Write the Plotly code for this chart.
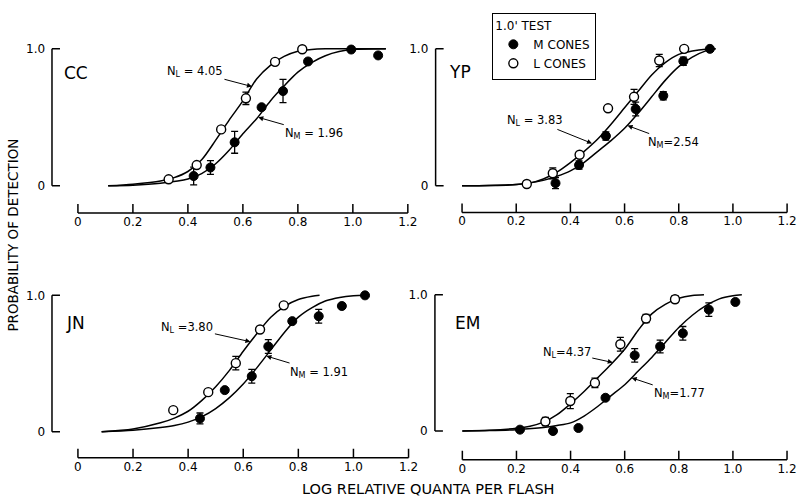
import plotly.graph_objects as go

FONT = "DejaVu Sans"

# ---------------- data ----------------
tick_vals = [0, 0.2, 0.4, 0.6, 0.8, 1.0, 1.2]
tick_text = ["0", "0.2", "0.4", "0.6", "0.8", "1.0", "1.2"]
y_tick_vals = [0, 1]
y_tick_text = ["0", "1.0"]

subjects = ["CC", "YP", "JN", "EM"]

# CC
CC_L_x = [0.33, 0.432, 0.521, 0.611, 0.717, 0.816]
CC_L_y = [0.048, 0.152, 0.412, 0.639, 0.905, 0.997]
CC_L_err = [None, None, None, 0.045, None, None]
CC_M_x = [0.421, 0.482, 0.57, 0.668, 0.746, 0.837, 0.994, 1.092]
CC_M_y = [0.072, 0.134, 0.318, 0.574, 0.692, 0.908, 0.995, 0.952]
CC_M_err = [0.065, 0.05, 0.08, None, 0.085, None, None, None]
CC_Lfit_x = [0.11, 0.2, 0.3, 0.35, 0.4, 0.45, 0.5, 0.55, 0.6, 0.65, 0.7, 0.75, 0.8, 0.85, 0.9, 1.0, 1.12]
CC_Lfit_y = [0.0, 0.012, 0.035, 0.06, 0.105, 0.19, 0.33, 0.48, 0.62, 0.78, 0.88, 0.945, 0.983, 0.996, 1.0, 1.0, 1.0]
CC_Mfit_x = [0.11, 0.2, 0.3, 0.4, 0.45, 0.5, 0.55, 0.6, 0.65, 0.7, 0.75, 0.8, 0.85, 0.9, 0.95, 1.0, 1.12]
CC_Mfit_y = [0.0, 0.005, 0.02, 0.05, 0.09, 0.16, 0.26, 0.38, 0.49, 0.62, 0.73, 0.83, 0.9, 0.95, 0.98, 0.995, 1.0]

# YP
YP_L_x = [0.239, 0.335, 0.434, 0.539, 0.635, 0.728, 0.82]
YP_L_y = [0.014, 0.092, 0.227, 0.566, 0.65, 0.915, 1.0]
YP_L_err = [None, 0.04, None, None, 0.055, 0.045, None]
YP_M_x = [0.345, 0.432, 0.531, 0.641, 0.743, 0.817, 0.915]
YP_M_y = [0.02, 0.152, 0.364, 0.561, 0.658, 0.91, 1.0]
YP_M_err = [0.04, 0.03, 0.03, 0.05, 0.03, 0.03, None]
YP_Lfit_x = [0.0, 0.1, 0.2, 0.25, 0.3, 0.35, 0.4, 0.45, 0.5, 0.55, 0.6, 0.65, 0.7, 0.75, 0.8, 0.85, 0.9, 0.936]
YP_Lfit_y = [0.0, 0.003, 0.01, 0.02, 0.05, 0.1, 0.17, 0.25, 0.34, 0.45, 0.57, 0.69, 0.81, 0.9, 0.96, 0.985, 0.998, 1.0]
YP_Mfit_x = [0.0, 0.1, 0.2, 0.3, 0.35, 0.4, 0.45, 0.5, 0.55, 0.6, 0.65, 0.7, 0.75, 0.8, 0.85, 0.9, 0.936]
YP_Mfit_y = [0.0, 0.002, 0.01, 0.04, 0.07, 0.11, 0.17, 0.25, 0.33, 0.42, 0.53, 0.65, 0.77, 0.87, 0.94, 0.985, 1.0]

# JN
JN_L_x = [0.346, 0.473, 0.573, 0.661, 0.747]
JN_L_y = [0.158, 0.29, 0.503, 0.75, 0.927]
JN_L_err = [None, None, 0.05, None, None]
JN_M_x = [0.443, 0.533, 0.631, 0.691, 0.778, 0.874, 0.958, 1.042]
JN_M_y = [0.097, 0.305, 0.407, 0.625, 0.811, 0.847, 0.922, 1.0]
JN_M_err = [0.04, None, 0.05, 0.05, None, 0.05, None, None]
JN_Lfit_x = [0.086, 0.2, 0.3, 0.35, 0.4, 0.45, 0.5, 0.55, 0.6, 0.65, 0.7, 0.75, 0.8, 0.85, 0.877]
JN_Lfit_y = [0.0, 0.02, 0.065, 0.1, 0.15, 0.23, 0.33, 0.45, 0.59, 0.72, 0.84, 0.92, 0.97, 0.993, 1.0]
JN_Mfit_x = [0.086, 0.2, 0.3, 0.35, 0.4, 0.45, 0.5, 0.55, 0.6, 0.65, 0.7, 0.75, 0.8, 0.85, 0.9, 0.95, 1.0, 1.045]
JN_Mfit_y = [0.0, 0.01, 0.03, 0.045, 0.07, 0.11, 0.17, 0.25, 0.35, 0.47, 0.6, 0.73, 0.84, 0.91, 0.96, 0.985, 0.997, 1.0]

# EM
EM_L_x = [0.307, 0.399, 0.49, 0.584, 0.679, 0.786]
EM_L_y = [0.07, 0.22, 0.353, 0.637, 0.826, 0.967]
EM_L_err = [0.03, 0.055, 0.035, 0.05, 0.03, 0.025]
EM_M_x = [0.213, 0.335, 0.429, 0.529, 0.637, 0.731, 0.815, 0.911, 1.009]
EM_M_y = [0.01, 0.0, 0.022, 0.244, 0.555, 0.62, 0.717, 0.891, 0.947]
EM_M_err = [None, None, None, None, 0.05, 0.047, 0.05, 0.05, None]
EM_Lfit_x = [0.0, 0.1, 0.2, 0.25, 0.3, 0.35, 0.4, 0.45, 0.5, 0.55, 0.6, 0.65, 0.7, 0.75, 0.8, 0.85, 0.893]
EM_Lfit_y = [0.0, 0.005, 0.02, 0.035, 0.065, 0.12, 0.2, 0.29, 0.39, 0.49, 0.6, 0.74, 0.86, 0.93, 0.975, 0.995, 1.0]
EM_Mfit_x = [0.0, 0.1, 0.2, 0.3, 0.35, 0.4, 0.45, 0.5, 0.55, 0.6, 0.65, 0.7, 0.75, 0.8, 0.85, 0.9, 0.95, 1.0, 1.033]
EM_Mfit_y = [0.0, 0.003, 0.01, 0.025, 0.04, 0.06, 0.11, 0.18, 0.26, 0.34, 0.44, 0.54, 0.65, 0.76, 0.85, 0.92, 0.97, 0.993, 1.0]

# fitted slope labels: (text, tip x, tip y, text offset px)
N_labels = {
    "CC": [("N<sub>L</sub> = 4.05", 0.633, 0.725, -57, -15), ("N<sub>M</sub> = 1.96", 0.656, 0.50, 56, 16)],
    "YP": [("N<sub>L</sub> = 3.83", 0.48, 0.31, -57, -23), ("N<sub>M</sub>=2.54", 0.611, 0.44, 46, 17)],
    "JN": [("N<sub>L</sub> =3.80", 0.626, 0.66, -63, -14), ("N<sub>M</sub> = 1.91", 0.684, 0.555, 53, 16)],
    "EM": [("N<sub>L</sub>=4.37", 0.556, 0.503, -46, -10), ("N<sub>M</sub>=1.77", 0.626, 0.39, 48, 16)],
}

data = {
    "CC": (CC_L_x, CC_L_y, CC_L_err, CC_M_x, CC_M_y, CC_M_err, CC_Lfit_x, CC_Lfit_y, CC_Mfit_x, CC_Mfit_y),
    "YP": (YP_L_x, YP_L_y, YP_L_err, YP_M_x, YP_M_y, YP_M_err, YP_Lfit_x, YP_Lfit_y, YP_Mfit_x, YP_Mfit_y),
    "JN": (JN_L_x, JN_L_y, JN_L_err, JN_M_x, JN_M_y, JN_M_err, JN_Lfit_x, JN_Lfit_y, JN_Mfit_x, JN_Mfit_y),
    "EM": (EM_L_x, EM_L_y, EM_L_err, EM_M_x, EM_M_y, EM_M_err, EM_Lfit_x, EM_Lfit_y, EM_Mfit_x, EM_Mfit_y),
}

# ---------------- layout geometry (pixels in 801x501) ----------------
W, H = 801, 501
geom = {
    "CC": dict(x0=77.7, sx=277.7, xaxis_y=210.0, yaxis_x=51.5, y0=182.7, y1=44.3, lab=(62, 69)),
    "YP": dict(x0=465.7, sx=273.6, xaxis_y=209.5, yaxis_x=439.0, y0=182.7, y1=44.3, lab=(451, 68)),
    "JN": dict(x0=77.7, sx=278.3, xaxis_y=457.3, yaxis_x=51.5, y0=431.0, y1=293.3, lab=(64, 321)),
    "EM": dict(x0=466.0, sx=273.3, xaxis_y=459.3, yaxis_x=438.3, y0=430.3, y1=292.7, lab=(457, 321)),
}
YPAD = 0.015
XPAD = 0.01
AXLINE = dict(color="black", width=1.5)
XTICKLEN = 9
YTICKLEN = 8
TICKFONT = dict(family=FONT, size=12, color="black")

fig = go.Figure()
layout = {}
annotations = []
shapes = []

for i, s in enumerate(subjects):
    g = geom[s]
    k = "" if i == 0 else str(i + 1)
    xa, ya = "x" + k, "y" + k
    Lx, Ly, Le, Mx, My, Me, Lfx, Lfy, Mfx, Mfy = data[s]

    line = dict(color="black", width=1.5, shape="spline", smoothing=0.8)
    fig.add_trace(go.Scatter(x=Lfx, y=Lfy, mode="lines", line=line, xaxis=xa, yaxis=ya,
                             showlegend=False, hoverinfo="skip"))
    fig.add_trace(go.Scatter(x=Mfx, y=Mfy, mode="lines", line=line, xaxis=xa, yaxis=ya,
                             showlegend=False, hoverinfo="skip"))
    fig.add_trace(go.Scatter(
        x=Mx, y=My, mode="markers", name="M CONES", legendrank=1,
        marker=dict(symbol="circle", size=9, color="black", line=dict(color="black", width=1)),
        error_y=dict(type="data", array=Me, visible=True, color="black", thickness=1.3, width=3.5),
        xaxis=xa, yaxis=ya, showlegend=(i == 0), cliponaxis=False))
    fig.add_trace(go.Scatter(
        x=Lx, y=Ly, mode="markers", name="L CONES", legendrank=2,
        marker=dict(symbol="circle", size=9, color="white", line=dict(color="black", width=1.4)),
        error_y=dict(type="data", array=Le, visible=True, color="black", thickness=1.3, width=3.5),
        xaxis=xa, yaxis=ya, showlegend=(i == 0), cliponaxis=False))

    sy = g["y0"] - g["y1"]
    top_px = g["y1"] - YPAD * sy
    x_dom = [(g["x0"] - XPAD * g["sx"]) / W, (g["x0"] + (1.2 + XPAD) * g["sx"]) / W]
    bracket_off = g["yaxis_x"] - g["x0"]
    xline_pos = (H - g["xaxis_y"]) / H
    bracket_pos = g["yaxis_x"] / W

    layout["xaxis" + k] = dict(
        domain=x_dom, range=[-XPAD, 1.2 + XPAD], anchor=ya, showline=False, ticks="",
        tickvals=tick_vals, ticktext=tick_text, showgrid=False, zeroline=False,
        tickfont=TICKFONT, ticklabelstandoff=0)
    layout["yaxis" + k] = dict(
        domain=[xline_pos, (H - top_px) / H],
        range=[-(g["xaxis_y"] - g["y0"]) / sy, 1 + YPAD], anchor=xa,
        showline=False, ticks="", tickvals=y_tick_vals, ticktext=y_tick_text,
        showgrid=False, zeroline=False, tickfont=TICKFONT,
        ticklabelstandoff=int(round(-bracket_off - XPAD * g["sx"] + 6)))

    # abscissa line with upward ticks
    shapes.append(dict(type="line", xref=xa, yref="paper", x0=tick_vals[0], x1=tick_vals[-1],
                       y0=xline_pos, y1=xline_pos, line=AXLINE, layer="above"))
    for v in tick_vals:
        shapes.append(dict(type="line", xref=xa, yref="paper", ysizemode="pixel", yanchor=xline_pos,
                           x0=v, x1=v, y0=0, y1=XTICKLEN, line=AXLINE, layer="above"))
    # probability bracket with inward ticks at 0 and 1.0
    shapes.append(dict(type="line", xref="paper", yref=ya, x0=bracket_pos, x1=bracket_pos,
                       y0=y_tick_vals[0], y1=y_tick_vals[-1], line=AXLINE, layer="above"))
    for v in y_tick_vals:
        shapes.append(dict(type="line", xref="paper", xsizemode="pixel", xanchor=bracket_pos,
                           yref=ya, x0=0, x1=YTICKLEN, y0=v, y1=v, line=AXLINE, layer="above"))

    annotations.append(dict(text=s, xref="paper", yref="paper", x=g["lab"][0] / W,
                            y=(H - g["lab"][1]) / H, xanchor="left", yanchor="middle",
                            showarrow=False, font=dict(family=FONT, size=17, color="black")))
    for (txt, tx, ty, ax, ay) in N_labels[s]:
        annotations.append(dict(text=txt, xref=xa, yref=ya, x=tx, y=ty, ax=ax, ay=ay,
                                showarrow=True, arrowhead=2, arrowsize=1, arrowwidth=1,
                                arrowcolor="black", standoff=0,
                                font=dict(family=FONT, size=11.5, color="black")))

annotations.append(dict(text="PROBABILITY OF DETECTION", xref="paper", yref="paper",
                        x=12 / W, y=(H - 232) / H, textangle=-90, showarrow=False,
                        xanchor="center", yanchor="middle",
                        font=dict(family=FONT, size=13.5, color="black")))
annotations.append(dict(text="LOG RELATIVE QUANTA PER FLASH", xref="paper", yref="paper",
                        x=432 / W, y=(H - 489) / H, showarrow=False,
                        xanchor="center", yanchor="middle",
                        font=dict(family=FONT, size=14.5, color="black")))

fig.update_layout(
    width=W, height=H, margin=dict(l=0, r=0, t=0, b=0),
    paper_bgcolor="white", plot_bgcolor="white",
    font=dict(family=FONT, color="black"),
    annotations=annotations, shapes=shapes,
    legend=dict(x=496 / W, y=(H - 8) / H, xanchor="left", yanchor="top",
                bordercolor="black", borderwidth=1.3, bgcolor="white",
                font=dict(family=FONT, size=12, color="black"),
                title=dict(text="1.0' TEST", font=dict(family=FONT, size=12, color="black")),
                itemwidth=30, tracegroupgap=0),
    **layout,
)

fig.write_html("out.html")
